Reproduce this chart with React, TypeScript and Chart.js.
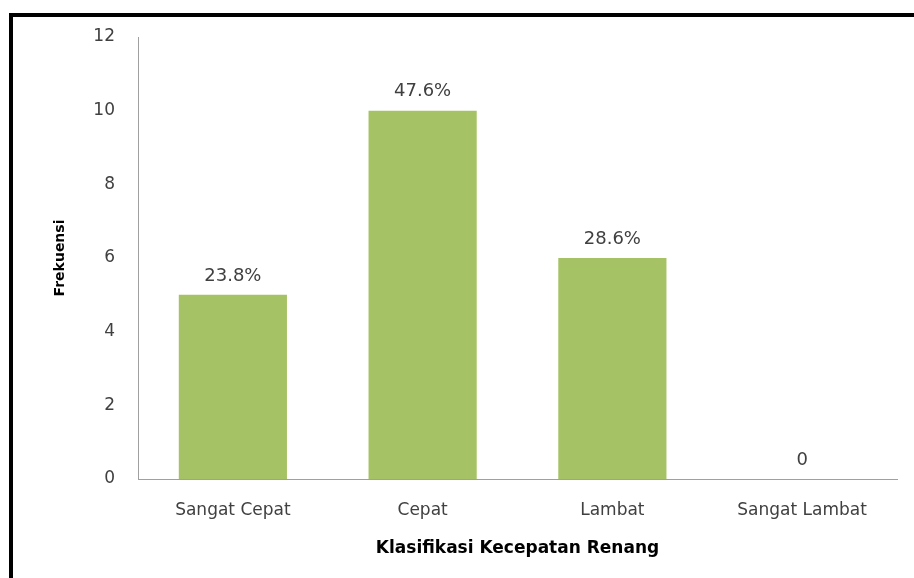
import React, { useEffect, useRef } from "react";
import { Chart, registerables } from "chart.js";

Chart.register(...registerables);

const categories = ["Sangat Cepat", "Cepat", "Lambat", "Sangat Lambat"];
const frequencies = [5, 10, 6, 0];
const percentLabels = ["23.8%", "47.6%", "28.6%", "0"];
const yTicks = [0, 2, 4, 6, 8, 10, 12];
const xTitle = "Klasifikasi Kecepatan Renang";
const yTitle = "Frekuensi";

const FONT = "'DejaVu Sans', sans-serif";
const TEXT = "#404040";

const dataLabelPlugin = {
  id: "dataLabels",
  afterDatasetsDraw(chart: any) {
    const ctx = chart.ctx;
    const meta = chart.getDatasetMeta(0);
    ctx.save();
    ctx.font = `18px ${FONT}`;
    ctx.fillStyle = TEXT;
    ctx.textAlign = "center";
    ctx.textBaseline = "middle";
    meta.data.forEach((bar: any, i: number) => {
      ctx.fillText(percentLabels[i], bar.x, bar.y - 19);
    });
    ctx.restore();
  },
};

export default function App() {
  const ref = useRef<HTMLCanvasElement>(null);
  useEffect(() => {
    if (!ref.current) return;
    const chart = new Chart(ref.current, {
      type: "bar",
      data: {
        labels: categories,
        datasets: [
          {
            data: frequencies,
            backgroundColor: "#a5c264",
            borderWidth: 0,
            categoryPercentage: 0.57,
            barPercentage: 1,
          },
        ],
      },
      options: {
        responsive: false,
        animation: false,
        layout: { padding: { top: 37, right: 17, left: 0, bottom: 0 } },
        plugins: {
          legend: { display: false },
          tooltip: { enabled: false },
        },
        scales: {
          x: {
            grid: { display: false, drawTicks: false },
            border: { display: true, color: "#a0a0a0", width: 1 },
            ticks: {
              color: TEXT,
              font: { family: FONT, size: 17 },
              padding: 21,
              maxRotation: 0,
            },
            title: {
              display: true,
              text: xTitle,
              color: "#000",
              font: { family: FONT, size: 17, weight: "bold" },
              padding: { top: 0, bottom: 19 },
            },
            afterFit(scale: any) {
              scale.height = 99;
            },
          },
          y: {
            min: 0,
            max: 12,
            afterBuildTicks(scale: any) {
              scale.ticks = yTicks.map((v) => ({ value: v }));
            },
            grid: { display: false, drawTicks: false },
            border: { display: true, color: "#a0a0a0", width: 1 },
            ticks: {
              color: TEXT,
              font: { family: FONT, size: 17 },
              padding: 23,
            },
            title: {
              display: true,
              text: yTitle,
              color: "#000",
              font: { family: FONT, size: 14, weight: "bold" },
              padding: { top: 52, bottom: 0 },
            },
            afterFit(scale: any) {
              scale.width = 138;
            },
          },
        },
      },
      plugins: [dataLabelPlugin],
    });
    return () => chart.destroy();
  }, []);

  return (
    <div
      style={{
        position: "fixed",
        left: 0,
        top: 0,
        width: 914,
        height: 578,
        background: "#fff",
        overflow: "hidden",
      }}
    >
      <canvas
        ref={ref}
        width={914}
        height={578}
        style={{ position: "absolute", left: 0, top: 0 }}
      />
      <div
        style={{
          position: "absolute",
          left: 9,
          top: 13,
          width: 920,
          height: 600,
          borderTop: "4px solid #000",
          borderLeft: "4px solid #000",
          boxSizing: "border-box",
          pointerEvents: "none",
        }}
      />
    </div>
  );
}
